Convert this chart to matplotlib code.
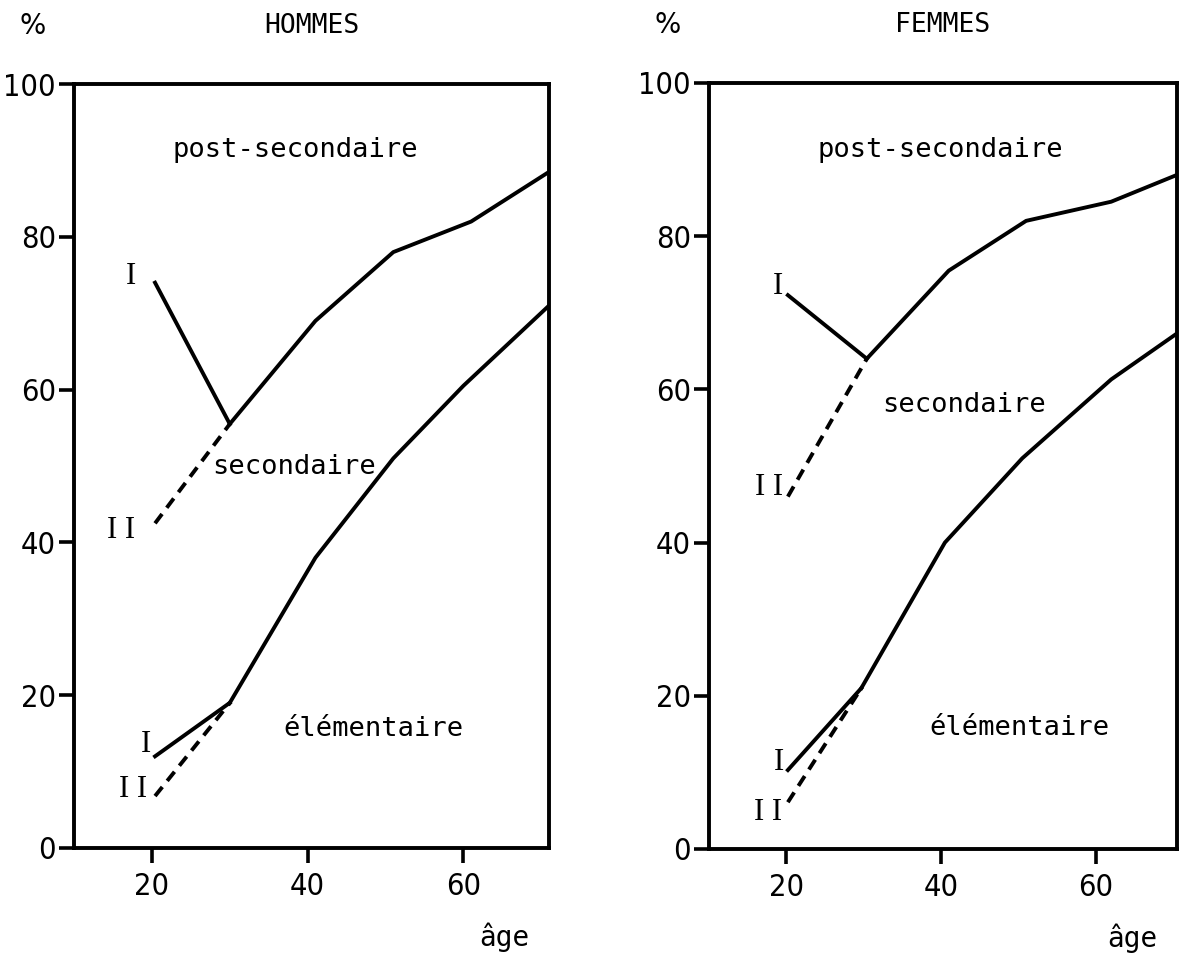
import matplotlib
matplotlib.use("Agg")
import matplotlib.pyplot as plt

# HOMMES
age_h_up = [30, 41, 51, 61, 71]
val_h_up = [55.5, 69, 78, 82, 88.5]
age_h_low = [30, 41, 51, 60, 71]
val_h_low = [19, 38, 51, 60.5, 71]
age_h_young = 20.4
h_up_I, h_up_II = 74, 42.5
h_low_I, h_low_II = 12, 6.8

# FEMMES
age_f_up = [30.4, 41, 51, 62, 70.5]
val_f_up = [64, 75.5, 82, 84.5, 88]
age_f_low = [29.7, 40.5, 50.5, 62, 70.5]
val_f_low = [21, 40, 51, 61.3, 67.3]
age_f_young = 20.2
f_up_I, f_up_II = 72.3, 46
f_low_I, f_low_II = 10.3, 6.1

yticks = [0, 20, 40, 60, 80, 100]
xticks = [20, 40, 60]

LW = 2.8
mono = ['DejaVu Sans Mono']
narrow = ['DejaVu Sans']
roman = ['Liberation Serif', 'DejaVu Serif']

fig = plt.figure(figsize=(11.83, 9.57), dpi=100)
ax1 = fig.add_axes([0.0626, 0.1139, 0.4015, 0.7983])
ax2 = fig.add_axes([0.5993, 0.1129, 0.3956, 0.8004])


def panel(ax, title, xlim, age_up, val_up, age_low, val_low, young, upI, upII, lowI, lowII,
          labels):
    ax.plot(age_up, val_up, color='black', lw=LW)
    ax.plot(age_low, val_low, color='black', lw=LW)
    ax.plot([young, age_up[0]], [upI, val_up[0]], color='black', lw=LW)
    ax.plot([young, age_up[0]], [upII, val_up[0]], color='black', lw=LW, dashes=(3, 2))
    ax.plot([young, age_low[0]], [lowI, val_low[0]], color='black', lw=LW)
    ax.plot([young, age_low[0]], [lowII, val_low[0]], color='black', lw=LW, dashes=(3, 2))

    ax.set_xlim(*xlim)
    ax.set_ylim(0, 100)
    ax.set_xticks(xticks)
    ax.set_yticks(yticks)
    ax.set_xticklabels([str(v) for v in xticks], family=narrow, fontsize=22, stretch='condensed')
    ax.set_yticklabels([str(v) for v in yticks], family=narrow, fontsize=22, stretch='condensed')
    ax.tick_params(axis='x', direction='out', length=11, width=2.6, pad=6)
    ax.tick_params(axis='y', direction='out', length=11, width=2.6, pad=2)
    for s in ax.spines.values():
        s.set_linewidth(2.8)

    ax.text(0.5, 1.076, title, transform=ax.transAxes, ha='center', va='center',
            family=mono, fontsize=19)
    ax.text(-0.088, 1.076, '%', transform=ax.transAxes, ha='center', va='center',
            family=narrow, fontsize=20)
    ax.text(0.905, -0.117, 'âge', transform=ax.transAxes, ha='center', va='center',
            family=mono, fontsize=20)

    for txt, x, y in labels:
        ax.text(x, y, txt, ha='center', va='center', family=mono, fontsize=19.5)


lab_h = [('post-secondaire', 38.4, 91.3), ('secondaire', 38.3, 49.9),
         ('élémentaire', 48.4, 15.6)]
lab_f = [('post-secondaire', 39.9, 91.3), ('secondaire', 43.0, 58.0),
         ('élémentaire', 50.2, 15.8)]

panel(ax1, 'HOMMES', (10, 71), age_h_up, val_h_up, age_h_low, val_h_low,
      age_h_young, h_up_I, h_up_II, h_low_I, h_low_II, lab_h)
panel(ax2, 'FEMMES', (10, 70.5), age_f_up, val_f_up, age_f_low, val_f_low,
      age_f_young, f_up_I, f_up_II, f_low_I, f_low_II, lab_f)

# roman numeral markers for the two series
for ax, marks in [(ax1, [('I', 17.3, 74.8), ('I I', 16.0, 41.5), ('I', 19.2, 13.6), ('I I', 17.6, 7.7)]),
                  (ax2, [('I', 18.9, 73.4), ('I I', 17.8, 47.2), ('I', 19.0, 11.3), ('I I', 17.6, 4.7)])]:
    for txt, x, y in marks:
        ax.text(x, y, txt, ha='center', va='center', family=roman, fontsize=22)

fig.savefig('out.png', dpi=100)
